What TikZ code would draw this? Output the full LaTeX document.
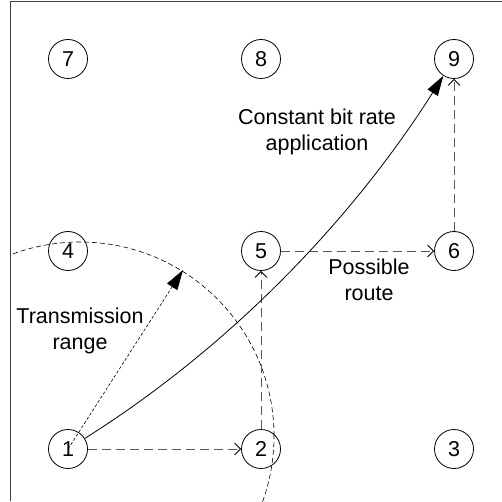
\documentclass[tikz,border=0pt]{standalone}
\usepackage{fontspec}
\setmainfont{Liberation Sans}
\usetikzlibrary{arrows.meta}
\begin{document}
\begin{tikzpicture}[x=1pt,y=1pt,
  station/.style={circle,draw,line width=0.8pt,minimum size=39pt,inner sep=0pt,
    font=\fontsize{21.5}{26}\selectfont},
  note/.style={align=center,font=\fontsize{21.5}{26}\selectfont},
  hop/.style={draw=black!65,line width=0.8pt,dash pattern=on 9pt off 5pt,
    -{Straight Barb[length=6pt,width=12pt,black]}},
  flow/.style={line width=0.8pt,-{Triangle[length=20pt,width=12pt]}},
  reachline/.style={line width=0.6pt,dash pattern=on 3pt off 2pt,
    -{Triangle[length=20pt,width=12pt]}},
]
\useasboundingbox (0,0) rectangle (502,501);
% frame edges
\draw[black!75,line width=1pt] (10,0) -- (10,499.5) -- (502,499.5);

% transmission range of station 1
\begin{scope}
  \clip (10,0) rectangle (502,499);
  \draw[dash pattern=on 5pt off 3pt,line width=0.6pt] (80,65) circle (194pt);
\end{scope}

% stations
\node[station] (n7) at (68,442) {7};
\node[station] (n8) at (261,442) {8};
\node[station] (n9) at (454,442) {9};
\node[station] (n4) at (68,250) {4};
\node[station] (n5) at (261,250) {5};
\node[station] (n6) at (454,250) {6};
\node[station] (n1) at (68,52) {1};
\node[station] (n2) at (261,52) {2};
\node[station] (n3) at (454,52) {3};

% possible route
\draw[hop] (n1) -- (n2);
\draw[hop] (n2) -- (n5);
\draw[hop] (n5) -- (n6);
\draw[hop] (n6) -- (n9);

% constant bit rate flow
\draw[flow] (n1) .. controls (230,154) and (352,281) .. (n9);

% range radius
\coordinate (reach) at (183,231);
\draw[reachline] (n1.center) -- (reach);

% captions
\node[note] (rng) at (80,170) {Transmission\\range};
\node[note] (cbr) at (317,369.5) {Constant bit rate\\application};
\node[note] (route) at (369,221) {Possible\\route};
\end{tikzpicture}
\end{document}
